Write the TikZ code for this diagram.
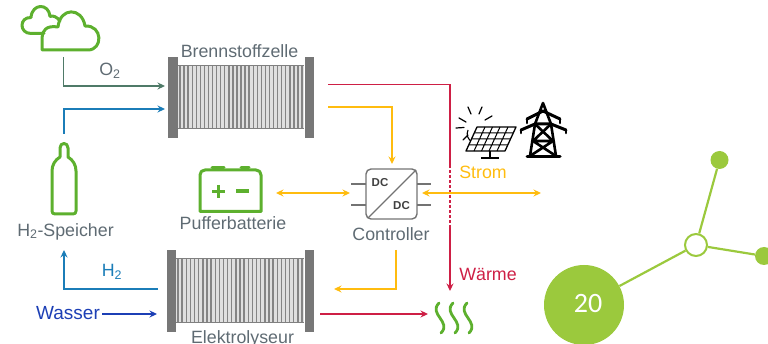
\documentclass[tikz,border=0pt]{standalone}
\usepackage{fontspec}
\setmainfont{Liberation Sans}
\newfontfamily\carl{Carlito}
\usetikzlibrary{arrows.meta}
\definecolor{txtgray}{HTML}{5F6B73}
\definecolor{iconG}{HTML}{5DB02E}
\definecolor{netG}{HTML}{9BC93D}
\definecolor{oxy}{HTML}{4F7A68}
\definecolor{hyd}{HTML}{1B7DB8}
\definecolor{wat}{HTML}{1C3FB5}
\definecolor{heat}{HTML}{CE1F45}
\definecolor{pow}{HTML}{FFBC0F}
\definecolor{plate}{HTML}{777777}
\tikzset{
  x=1pt,y=-1pt,
  lab/.style={inner sep=0pt,text=txtgray,font=\fontsize{17.8}{20}\selectfont},
  flow/.style={line width=1.5pt,-{Stealth[length=7.5pt,width=7pt]}},
  flowb/.style={line width=1.5pt,{Stealth[length=7.5pt,width=7pt]}-{Stealth[length=7.5pt,width=7pt]}},
  icon/.style={draw=iconG,line width=3pt,line join=round,line cap=round},
  platebox/.style={fill=plate,draw=none},
  cell/.style={fill=black!12},
  leadline/.style={draw=black!55,line width=1.2pt},
  net/.style={draw=netG,line width=2.2pt},
  dot/.style={circle,fill=netG,draw=none,inner sep=0pt,minimum size=18pt}
}
\newcommand{\stack}[5]{%
  \fill[cell] (#2,#3) rectangle (#4,#5);
  \foreach \i in {0,...,30}{\draw[black!48,line width=1.4pt] ({#2+2+\i*(#4-#2-4)/30},#3) -- ({#2+2+\i*(#4-#2-4)/30},#5);}
  \draw[black!50,line width=1pt] (#2,#3) -- (#4,#3) (#2,#5) -- (#4,#5);
}
\begin{document}
\begin{tikzpicture}
\useasboundingbox (0,0) rectangle (768,344);
\clip (0,0) rectangle (768,344);
% coordinates
\coordinate (o2s) at (63.5,57); \coordinate (o2c) at (63.5,86); \coordinate (o2e) at (165,86);
\coordinate (h2s) at (64,134); \coordinate (h2c) at (64,109); \coordinate (h2e) at (165,109);
\coordinate (els) at (158,289); \coordinate (elc) at (64,289); \coordinate (ele) at (64,250);
\coordinate (was) at (102,314); \coordinate (wae) at (157,314);
\coordinate (hts) at (328,84.5); \coordinate (htc) at (450,84.5); \coordinate (ht1) at (450,165);
\coordinate (ht2) at (450,226); \coordinate (hte) at (450,291);
\coordinate (pws) at (328,107); \coordinate (pwc) at (392,107); \coordinate (pwe) at (392,164);
\coordinate (bat) at (276,193); \coordinate (ctl) at (350,193);
\coordinate (ctr) at (422,193); \coordinate (out) at (541,193);
\coordinate (cds) at (396,250); \coordinate (cdc) at (396,289); \coordinate (cde) at (334,289);
\coordinate (hes) at (320,314); \coordinate (hee) at (428,314);
% stacks
\stack{fc}{178}{65.5}{304}{129}
\fill[platebox] (168,57.5) rectangle (178,138);
\fill[platebox] (304.5,57.5) rectangle (314,138);
\stack{el}{176}{258.5}{304}{323}
\fill[platebox] (167,250) rectangle (176,332);
\fill[platebox] (304.5,250) rectangle (314,332);
% labels
\node[lab] (tfc) at (239.5,51.5) {Brennstoffzelle};
\node[lab] (tel) at (242.5,339) {Elektrolyseur};
\node[lab] (tpb) at (233,223) {Pufferbatterie};
\node[lab] (th2) at (65.5,231.5) {H\textsubscript{2}-Speicher};
\node[lab] (tco) at (391,234) {Controller};
\node[lab] (to2) at (110,71) {O\textsubscript{2}};
\node[lab,text=hyd] (th) at (112,272) {H\textsubscript{2}};
\node[lab,text=wat,font=\fontsize{19}{20}\selectfont] (twa) at (68,313) {Wasser};
\node[lab,text=pow] (tst) at (483,172) {Strom};
\node[lab,text=heat] (twr) at (488,274) {Wärme};
% flows
\draw[flow,oxy] (o2s) -- (o2c) -- (o2e);
\draw[flow,hyd] (h2s) -- (h2c) -- (h2e);
\draw[flow,hyd] (els) -- (elc) -- (ele);
\draw[flow,wat] (was) -- (wae);
\draw[line width=1.5pt,heat] (hts) -- (htc) -- (ht1);
\draw[line width=1.5pt,heat,dash pattern=on 3pt off 2pt] (ht1) -- (ht2);
\draw[flow,heat] (ht2) -- (hte);
\draw[flow,heat] (hes) -- (hee);
\draw[flow,pow] (pws) -- (pwc) -- (pwe);
\draw[flowb,pow] (bat) -- (ctl);
\draw[flowb,pow] (ctr) -- (out);
\draw[flow,pow] (cds) -- (cdc) -- (cde);
% clouds
\draw[icon] (44,33.5) -- (31,33.5) .. controls (19,33.5) and (19,17) .. (31,17.5) .. controls (32,3) and (49,3) .. (50,16.5) .. controls (53,15) and (57,17) .. (60,21);
\draw[icon] (42,50) -- (88,50) .. controls (103,50) and (103,25) .. (85,26) .. controls (82,7) and (60,7) .. (58,27) .. controls (46,25) and (42,31) .. (42,38) -- cycle;
% bottle
\draw[icon] (60,157) -- (60,148) .. controls (60,142) and (68,142) .. (68,148) -- (68,157) .. controls (73,160) and (76,165) .. (76,171) -- (76,211) .. controls (76,213) and (75,214) .. (73,214) -- (55,214) .. controls (53,214) and (52,213) .. (52,211) -- (52,171) .. controls (52,165) and (55,160) .. (60,157) -- cycle;
% battery
\draw[icon] (200,211.5) -- (200,175) .. controls (200,172) and (202,170) .. (205,170) -- (256,170) .. controls (259,170) and (261,172) .. (261,175) -- (261,211.5) -- cycle;
\draw[icon] (212,168) -- (224,168) (241,168) -- (249,168);
\draw[icon,line width=3.6pt,line cap=butt] (212,191.5) -- (225,191.5) (218.5,185) -- (218.5,198) (236,191) -- (249,191);
% controller
\draw[leadline,rounded corners=5pt,line width=1.4pt] (366,169) rectangle (417,219);
\draw[leadline] (351,184) -- (366,184) (351,205) -- (366,205) (417,184) -- (431,184) (417,205) -- (431,205);
\draw[leadline] (368,218) -- (416,170);
\node[inner sep=0pt,font=\fontsize{11.5}{12}\bfseries\selectfont,text=black!75] (dc1) at (380,183) {DC};
\node[inner sep=0pt,font=\fontsize{11.5}{12}\bfseries\selectfont,text=black!75] (dc2) at (401.5,206) {DC};
% heat waves
\foreach \dx in {0,14,28}{
\draw[icon,line width=2.8pt] (\dx+439,303) .. controls (\dx+428,314) and (\dx+452,322) .. (\dx+441,333);
}
% sun and panel
\draw[black,line width=1.1pt] (468,130) arc (205:20:9);
\draw[black,line width=1.2pt,line cap=round] (456,128) -- (464,127.5) (459,118) -- (466,122) (468,107) -- (471,114) (482,107) -- (479,114) (492,116) -- (485,120) (463,140) -- (468,135);
\draw[black,line width=1.3pt,line join=round,fill=white] (477,127) -- (516,127) -- (505,151) -- (466,151) -- cycle;
\draw[black,line width=1pt] (474.3,133) -- (513.3,133) (471.5,139) -- (510.5,139) (468.8,145) -- (507.8,145)
 (485,127) -- (474,151) (492.5,127) -- (481.5,151) (500,127) -- (489,151) (508,127) -- (497,151);
\draw[black,line width=1.4pt] (490,151) -- (490,158) (481,158) -- (499,158);
% pylon
\begin{scope}[black,line width=2.6pt,line join=round,line cap=round]
\draw (543,103) -- (535,124) -- (530,156) (543,103) -- (551,124) -- (556,156);
\draw[line width=3pt] (527,157) -- (560,157);
\draw[line width=3pt] (527,119) -- (543,111) -- (560,119) (521,130) -- (535,124) -- (551,124) -- (566,130);
\draw (521,130) -- (521,133) (566,130) -- (566,133) (527,119) -- (527,123) (560,119) -- (560,123);
\draw (535,124) -- (553,141) -- (530,156) (551,124) -- (533,141) -- (556,156) (533,141) -- (553,141);
\end{scope}
% network
\node[dot,minimum size=80pt] (big) at (584,305) {};
\node[inner sep=0pt,text=white,font=\carl\fontsize{28}{30}\selectfont] (num) at (588,304) {20};
\node[circle,draw=netG,line width=2pt,fill=white,minimum size=22pt,inner sep=0pt] (hub) at (696,245) {};
\node[dot] (top) at (719.5,160) {};
\node[dot] (rgt) at (764,256) {};
\draw[net] (big) -- (hub) (hub) -- (top) (hub) -- (rgt);
\end{tikzpicture}
\end{document}
